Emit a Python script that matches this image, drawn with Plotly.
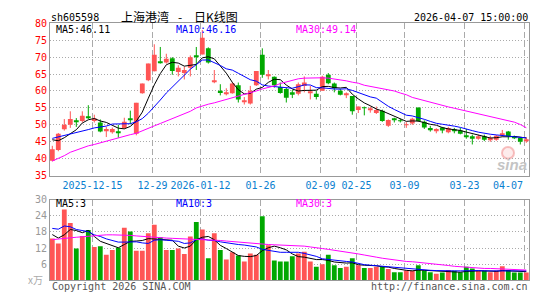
import plotly.graph_objects as go

# ---------------- data ----------------
dates = [
    "2025-12-04", "2025-12-05", "2025-12-08", "2025-12-09", "2025-12-10", "2025-12-11", "2025-12-12",
    "2025-12-15", "2025-12-16", "2025-12-17", "2025-12-18", "2025-12-19", "2025-12-22", "2025-12-23",
    "2025-12-24", "2025-12-25", "2025-12-26", "2025-12-29", "2025-12-30", "2025-12-31",
    "2026-01-05", "2026-01-06", "2026-01-07", "2026-01-08", "2026-01-09", "2026-01-12", "2026-01-13",
    "2026-01-14", "2026-01-15", "2026-01-16", "2026-01-19", "2026-01-20", "2026-01-21", "2026-01-22",
    "2026-01-23", "2026-01-26", "2026-01-27", "2026-01-28", "2026-01-29", "2026-01-30",
    "2026-02-02", "2026-02-03", "2026-02-04", "2026-02-05", "2026-02-06", "2026-02-09", "2026-02-10",
    "2026-02-11", "2026-02-12", "2026-02-13", "2026-02-24", "2026-02-25", "2026-02-26", "2026-02-27",
    "2026-03-02", "2026-03-03", "2026-03-04", "2026-03-05", "2026-03-06", "2026-03-09", "2026-03-10",
    "2026-03-11", "2026-03-12", "2026-03-13", "2026-03-16", "2026-03-17", "2026-03-18", "2026-03-19",
    "2026-03-20", "2026-03-23", "2026-03-24", "2026-03-25", "2026-03-26", "2026-03-27", "2026-03-30",
    "2026-03-31", "2026-04-01", "2026-04-02", "2026-04-03", "2026-04-07",
]

open_ = [39.4, 42.6, 48.7, 50.0, 51.2, 51.1, 52.4, 51.1, 50.7, 48.3,
         47.8, 48.0, 49.1, 51.8, 47.4, 59.3, 63.2, 65.8, 68.6, 68.4,
         69.7, 65.6, 65.3, 66.9, 70.4, 70.8, 72.6, 62.6, 60.1, 59.2,
         59.3, 61.7, 56.8, 56.3, 61.7, 70.7, 64.6, 64.2, 61.2, 60.6,
         59.6, 59.2, 61.5, 59.4, 59.2, 60.1, 64.8, 62.2, 60.1, 58.9,
         58.5, 54.4, 55.0, 54.5, 53.5, 54.2, 49.7, 51.9, 51.3, 49.9,
         50.4, 55.1, 50.9, 49.1, 48.1, 49.2, 47.8, 48.6, 48.3, 46.6,
         46.6, 45.9, 46.6, 45.6, 45.6, 47.1, 48.0, 46.2, 46.1, 45.3]
high = [43.8, 47.6, 51.7, 54.0, 52.0, 54.0, 55.8, 53.0, 51.6, 49.4,
        49.2, 50.0, 52.1, 54.2, 56.5, 62.2, 68.1, 73.8, 73.0, 71.0,
        70.0, 67.6, 67.2, 70.5, 73.0, 78.0, 72.9, 66.2, 62.0, 60.8,
        62.6, 62.5, 58.2, 61.5, 65.9, 72.6, 66.2, 64.3, 62.5, 61.0,
        60.3, 62.5, 64.3, 61.5, 60.1, 64.5, 65.3, 62.5, 60.6, 59.6,
        58.5, 55.4, 55.4, 55.4, 55.4, 54.5, 51.6, 52.1, 51.8, 50.8,
        52.1, 55.1, 51.3, 49.7, 49.0, 49.4, 49.4, 49.1, 49.1, 48.8,
        47.1, 47.1, 47.1, 46.8, 47.0, 48.5, 48.2, 46.8, 46.4, 46.3]
low = [39.2, 42.2, 48.3, 49.1, 49.4, 50.7, 51.7, 50.7, 47.8, 46.4,
       47.4, 46.2, 48.8, 50.2, 46.9, 59.2, 62.9, 65.8, 68.1, 68.1,
       64.8, 64.3, 63.4, 64.3, 66.2, 70.8, 68.1, 62.3, 58.7, 58.7,
       59.2, 56.6, 56.0, 56.0, 61.5, 63.9, 63.4, 61.0, 59.2, 56.6,
       57.9, 58.7, 59.6, 57.5, 57.5, 60.1, 62.0, 59.6, 58.7, 57.9,
       53.0, 53.5, 52.8, 53.6, 53.2, 50.9, 49.4, 50.7, 50.7, 49.1,
       50.0, 50.9, 48.8, 48.0, 47.5, 47.5, 47.5, 47.5, 47.2, 45.9,
       44.2, 45.6, 45.2, 45.0, 45.3, 46.6, 45.6, 45.8, 44.2, 44.7]
close = [42.8, 47.4, 50.0, 51.7, 50.9, 52.7, 52.2, 51.9, 48.0, 48.8,
         48.8, 47.6, 50.9, 51.6, 56.5, 62.2, 68.1, 70.7, 68.2, 69.5,
         65.9, 66.9, 66.2, 70.0, 70.2, 75.7, 68.4, 63.2, 59.4, 59.6,
         62.2, 57.5, 57.0, 60.1, 65.9, 64.8, 64.9, 61.7, 59.4, 58.0,
         58.9, 62.0, 62.5, 59.6, 58.2, 64.2, 62.3, 60.8, 58.9, 59.2,
         54.0, 55.4, 54.9, 54.7, 54.4, 51.1, 51.4, 51.4, 51.1, 50.1,
         51.8, 51.1, 49.2, 48.6, 48.8, 48.3, 49.1, 48.1, 47.4, 46.4,
         45.9, 46.6, 45.6, 46.1, 46.8, 47.3, 46.6, 46.1, 45.0, 45.55]
volume = [15.5, 13.7, 26.3, 21.3, 11.8, 16.5, 18.7, 12.4, 12.7, 9.5,
          11.3, 12.1, 19.5, 18.1, 11.0, 11.0, 17.5, 20.7, 16.0, 11.3,
          11.3, 11.8, 9.8, 16.3, 21.7, 18.9, 8.2, 17.5, 11.3, 7.7,
          10.4, 9.2, 7.0, 10.0, 9.5, 23.8, 13.0, 7.4, 7.0, 7.0,
          8.9, 10.0, 10.6, 7.0, 5.0, 6.0, 9.5, 5.6, 4.6, 5.0,
          8.2, 5.6, 4.6, 4.6, 5.0, 5.2, 4.2, 3.0, 3.0, 3.6,
          3.5, 5.6, 3.6, 3.0, 2.4, 2.9, 3.8, 3.5, 3.0, 5.0,
          4.4, 3.5, 3.5, 3.0, 3.5, 5.2, 3.8, 2.9, 2.9, 2.9]

ma5 = [45.6, 45.3, 46.2, 47.5, 48.56, 50.54, 51.5, 51.88, 51.14, 50.72,
       49.94, 49.02, 48.82, 49.54, 51.08, 53.76, 57.86, 61.82, 65.14, 67.74,
       68.48, 68.24, 67.34, 67.7, 67.84, 69.8, 70.1, 69.5, 67.38, 65.26,
       62.56, 60.38, 59.14, 59.28, 60.54, 61.06, 62.54, 63.48, 63.34, 61.76,
       60.58, 60.0, 60.16, 60.2, 60.24, 61.3, 61.36, 61.02, 60.88, 61.08,
       59.04, 57.66, 56.48, 55.64, 54.68, 54.1, 53.3, 52.6, 51.88, 51.02,
       51.16, 51.1, 50.66, 50.16, 49.9, 49.2, 48.8, 48.58, 48.34, 47.86,
       47.38, 46.88, 46.38, 46.12, 46.2, 46.48, 46.48, 46.58, 46.36, 46.11]
ma10 = [46.0, 46.4, 46.8, 47.2, 47.6, 48.1, 48.6, 49.1, 49.4, 49.64,
        50.24, 50.26, 50.35, 50.34, 50.9, 51.85, 53.44, 55.32, 57.34, 59.41,
        61.12, 63.05, 64.58, 66.42, 67.79, 69.14, 69.17, 68.42, 67.54, 66.55,
        66.18, 65.24, 64.32, 63.33, 62.9, 61.81, 61.46, 61.31, 61.31, 61.15,
        60.82, 61.27, 61.82, 61.77, 61.0, 60.94, 60.68, 60.59, 60.54, 60.66,
        60.17, 59.51, 58.75, 58.26, 57.88, 56.57, 55.48, 54.54, 53.76, 52.85,
        52.63, 52.2, 51.63, 51.02, 50.46, 50.18, 49.95, 49.62, 49.25, 48.88,
        48.29, 47.84, 47.48, 47.23, 47.03, 46.93, 46.68, 46.48, 46.24, 46.16]
ma30 = [39.3, 40.0, 40.9, 41.9, 42.6, 43.2, 43.8, 44.2, 44.7, 45.3,
        45.8, 46.2, 46.6, 47.1, 47.5, 48.3, 49.1, 49.7, 50.4, 51.1,
        51.8, 52.5, 53.2, 54.0, 55.0, 55.6, 56.1, 56.5, 57.0, 57.5,
        57.9, 58.4, 58.9, 59.3, 60.0, 60.6, 61.0, 61.5, 62.2, 62.7,
        63.2, 63.6, 63.8, 63.9, 63.9, 63.9, 63.8, 63.6, 63.3, 63.0,
        62.6, 62.3, 61.7, 61.4, 61.1, 60.8, 60.5, 60.0, 59.4, 58.9,
        58.1, 57.6, 57.2, 56.7, 56.2, 55.7, 55.3, 54.9, 54.5, 54.2,
        53.7, 53.3, 52.8, 52.4, 52.0, 51.6, 51.2, 50.8, 50.1, 49.14]

vma5 = [17.0, 15.7, 16.9, 18.9, 18.5, 17.7, 18.5, 16.3, 14.5, 13.7,
        13.0, 12.1, 13.3, 14.5, 14.6, 14.8, 15.5, 15.4, 15.1, 15.1,
        14.9, 12.7, 12.0, 12.7, 15.1, 16.0, 16.3, 15.1, 13.0, 11.8,
        10.4, 9.2, 8.9, 8.8, 9.2, 11.0, 12.1, 12.7, 12.1, 11.3,
        9.8, 8.8, 8.6, 8.2, 7.7, 7.7, 7.4, 6.8, 6.5, 6.4,
        6.5, 5.8, 5.6, 5.6, 5.4, 5.0, 4.9, 4.4, 4.0, 3.7,
        3.5, 3.8, 3.7, 3.6, 3.3, 3.2, 3.1, 3.1, 3.0, 3.3,
        3.5, 3.5, 3.5, 3.3, 3.3, 3.6, 3.5, 3.3, 3.2, 3.2]
vma10 = [19.3, 19.0, 20.2, 19.9, 18.9, 18.5, 18.1, 16.9, 16.3, 15.4,
         14.8, 14.2, 14.2, 14.3, 14.3, 13.9, 13.7, 14.9, 15.1, 14.9,
         14.8, 14.5, 13.7, 13.9, 15.1, 15.4, 14.9, 14.8, 14.3, 13.9,
         13.7, 13.3, 13.1, 12.7, 12.4, 11.5, 11.2, 10.8, 10.4, 10.4,
         10.4, 10.4, 10.0, 9.4, 8.9, 8.0, 7.7, 7.5, 7.3, 7.0,
         6.8, 6.2, 5.8, 5.6, 5.4, 5.2, 5.0, 4.8, 4.5, 4.3,
         4.2, 3.9, 3.8, 3.7, 3.6, 3.5, 3.5, 3.5, 3.5, 3.6,
         3.7, 3.6, 3.5, 3.5, 3.5, 3.5, 3.5, 3.5, 3.5, 3.5]
vma30 = [15.1, 15.4, 15.6, 15.8, 16.0, 16.2, 16.4, 16.7, 16.8, 16.9,
         16.9, 16.9, 16.8, 16.7, 16.5, 16.3, 16.1, 16.0, 15.8, 15.7,
         15.6, 15.5, 15.5, 15.5, 15.4, 15.2, 15.1, 14.9, 14.8, 14.6,
         14.4, 14.2, 13.9, 13.8, 13.6, 13.5, 13.3, 13.2, 13.1, 13.0,
         13.0, 12.9, 12.7, 12.4, 12.0, 11.8, 11.5, 11.2, 10.8, 10.5,
         10.1, 9.8, 9.4, 8.9, 8.6, 8.2, 7.9, 7.5, 7.1, 7.0,
         6.9, 6.7, 6.4, 6.2, 6.0, 5.7, 5.5, 5.2, 5.0, 4.8,
         4.6, 4.5, 4.4, 4.4, 4.3, 4.2, 4.2, 4.0, 3.9, 3.8]

tick_dates = ["2025-12-15", "2025-12-29", "2026-01-12", "2026-01-26", "2026-02-09",
              "2026-02-25", "2026-03-09", "2026-03-23", "2026-04-07"]
tick_labels = ["2025-12-15", "12-29", "2026-01-12", "01-26", "02-09",
               "02-25", "03-09", "03-23", "04-07"]
price_ticks = [35, 40, 45, 50, 55, 60, 65, 70, 75, 80]
vol_ticks = [6, 12, 18, 24, 30]

# ---------------- styling ----------------
W, H = 545, 300
RED, GREEN = "#ff5555", "#00a800"
BLUE_TXT = "#0a80d0"
MONO = "DejaVu Sans Mono"
CJK = "Noto Sans CJK SC"
GRID = "#aaaaaa"
FRAME = "#999999"


def px(x):
    return x / W


def py(y):
    return 1 - y / H


n = len(close)
idx = list(range(n))
up = [c >= o for o, c in zip(open_, close)]
colors = [RED if u else GREEN for u in up]
body_base = [min(o, c) for o, c in zip(open_, close)]
body_h = [max(abs(c - o), 0.25) for o, c in zip(open_, close)]
tick_pos = [dates.index(d) - 0.3 for d in tick_dates]

fig = go.Figure()

# wicks
for flag, col in ((True, RED), (False, GREEN)):
    xs, ys = [], []
    for i in idx:
        if up[i] == flag:
            xs += [i, i, None]
            ys += [low[i], high[i], None]
    fig.add_trace(go.Scatter(x=xs, y=ys, mode="lines", line=dict(color=col, width=1),
                             xaxis="x", yaxis="y", hoverinfo="skip"))
# bodies
fig.add_trace(go.Bar(x=idx, y=body_h, base=body_base, width=0.8,
                     marker=dict(color=colors, line=dict(width=0)), xaxis="x", yaxis="y"))
# price MAs
for arr, col in ((ma5, "#000000"), (ma10, "#0000ff"), (ma30, "#ff00ff")):
    fig.add_trace(go.Scatter(x=idx, y=arr, mode="lines", line=dict(color=col, width=1),
                             xaxis="x", yaxis="y"))
# volume
fig.add_trace(go.Bar(x=idx, y=volume, width=0.8,
                     marker=dict(color=colors, line=dict(width=0)), xaxis="x2", yaxis="y2"))
for arr, col in ((vma5, "#000000"), (vma10, "#0000ff"), (vma30, "#ff00ff")):
    fig.add_trace(go.Scatter(x=idx, y=arr, mode="lines", line=dict(color=col, width=1),
                             xaxis="x2", yaxis="y2"))

xr = [-0.383, 79.5]
common_x = dict(range=xr, domain=[px(50), px(529.3)], tickvals=tick_pos,
                showgrid=True, gridcolor=GRID, griddash="6px,3px", gridwidth=1,
                showline=True, mirror=True, linecolor=FRAME, linewidth=1,
                zeroline=False, ticks="", fixedrange=True)

fig.update_layout(
    width=W, height=H, margin=dict(l=0, r=0, t=0, b=0),
    paper_bgcolor="white", plot_bgcolor="white", showlegend=False,
    barmode="overlay",
    xaxis=dict(**common_x, anchor="y",
               ticktext=tick_labels[:-1] + [""],
               tickfont=dict(family=MONO, size=10, color=BLUE_TXT)),
    yaxis=dict(domain=[py(176.7), py(18)], range=[35, 80], tickvals=price_ticks,
               tickfont=dict(family=MONO, size=10, color="#ff0000"),
               showgrid=True, gridcolor=GRID, griddash="1px,2px",
               showline=True, mirror=True, linecolor=FRAME, linewidth=1,
               zeroline=False, ticks="", anchor="x"),
    xaxis2=dict(**common_x, anchor="y2", showticklabels=False),
    yaxis2=dict(domain=[py(285.7), py(201.7)], range=[0, 30], tickvals=vol_ticks,
                tickfont=dict(family=MONO, size=10, color="#999999"),
                showgrid=True, gridcolor=GRID, griddash="1px,2px",
                showline=True, mirror=True, linecolor=FRAME, linewidth=1,
                zeroline=False, ticks="", anchor="x2"),
)


def note(text, x, y, color="#000000", anchor="left", size=10, family=MONO, **kw):
    fig.add_annotation(text=text, x=px(x), y=py(y), xref="paper", yref="paper",
                       xanchor=anchor, yanchor="middle", showarrow=False,
                       font=dict(family=family, size=size, color=color), **kw)


note("sh605598", 49, 11.5)
note("上海港湾", 119, 11, size=12, family=CJK)
note("-", 179.5, 11, size=12, family=CJK, anchor="center")
note("日K线图", 192, 11, size=12, family=CJK)
note("2026-04-07 15:00:00", 529.5, 11.5, anchor="right")

note("MA5:%.2f" % ma5[-1], 54, 24)
note("MA10:%.2f" % ma10[-1], 174, 24, color="#0000ff")
note("MA30:%.2f" % ma30[-1], 294, 24, color="#ff00ff")

note("MA5:%d" % int(vma5[-1]), 54, 206)
note("MA10:%d" % int(vma10[-1]), 174, 206, color="#0000ff")
note("MA30:%d" % int(vma30[-1]), 294, 206, color="#ff00ff")

note("x万", 45, 285, color="#aaaaaa", anchor="right", family=CJK)
note("Copyright 2026 SINA.COM", 49.5, 292.5, color="#555555")
note("http://finance.sina.com.cn", 529.5, 292.5, color="#555555", anchor="right")

# last date label kept inside the frame
fig.add_annotation(text=tick_labels[-1], x=tick_pos[-1], y=py(187), xref="x", yref="paper",
                   xanchor="right", yanchor="middle", showarrow=False,
                   font=dict(family=MONO, size=10, color=BLUE_TXT))

# sina watermark
fig.add_shape(type="circle", xref="paper", yref="paper",
              x0=px(502), x1=px(514), y0=py(159), y1=py(147),
              line=dict(color="rgba(240,140,140,0.55)", width=2),
              fillcolor="rgba(250,200,200,0.35)", layer="below")
note("<b><i>sina</i></b>", 512, 165, color="#c4c4c4", anchor="center", size=15,
     family="Liberation Sans")

fig.write_html("out.html")
